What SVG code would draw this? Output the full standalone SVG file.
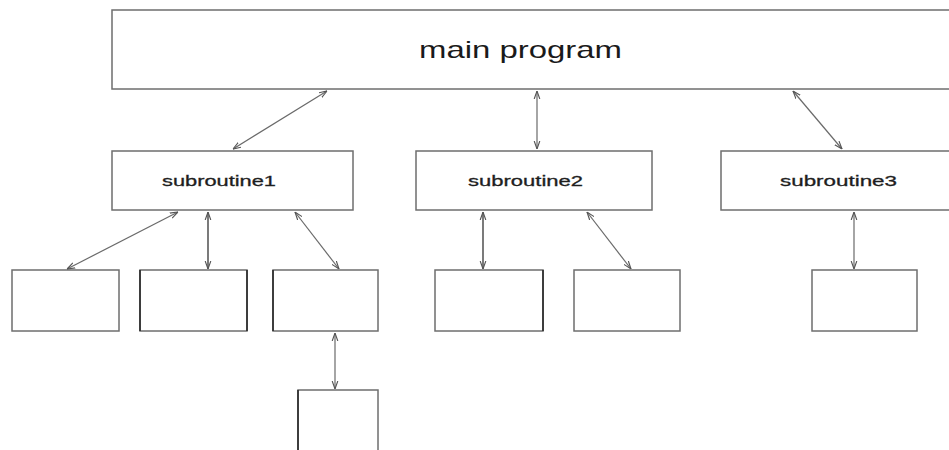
<svg xmlns="http://www.w3.org/2000/svg" width="949" height="450" viewBox="0 0 949 450">
  <style>
    .box { fill: #ffffff; stroke: #6e6e6e; stroke-width: 1.5; }
    .edge { stroke: #222222; stroke-width: 1.5; }
    .link { fill: none; stroke: #6a6a6a; stroke-width: 1.2; marker-start: url(#tip); marker-end: url(#tip); }
    .label { font-family: "Liberation Sans", Arial, sans-serif; fill: #1a1a1a; text-anchor: middle; }
    .main { font-size: 24px; }
    .sub { font-size: 15px; fill: #1e1e1e; stroke: #1e1e1e; stroke-width: 0.3; }
  </style>
  <defs>
    <marker id="tip" viewBox="0 0 10 10" refX="10" refY="5" markerWidth="8" markerHeight="8" markerUnits="userSpaceOnUse" orient="auto-start-reverse">
      <path d="M0,1.5 L10,5 L0,8.5" fill="none" stroke="#555555" stroke-width="1.4"/>
    </marker>
  </defs>
  <rect width="949" height="450" fill="#ffffff"/>

  <!-- top-level program -->
  <g id="main-program">
    <rect class="box" x="112" y="10" width="850" height="79"/>
    <text class="label main" x="520.5" y="58" textLength="203" lengthAdjust="spacingAndGlyphs">main program</text>
  </g>

  <!-- subroutines -->
  <g id="subroutine1">
    <rect class="box" x="112" y="151" width="241" height="59"/>
    <text class="label sub" x="219" y="186" textLength="114" lengthAdjust="spacingAndGlyphs">subroutine1</text>
  </g>
  <g id="subroutine2">
    <rect class="box" x="416" y="151" width="236" height="59"/>
    <text class="label sub" x="525.5" y="186" textLength="115" lengthAdjust="spacingAndGlyphs">subroutine2</text>
  </g>
  <g id="subroutine3">
    <rect class="box" x="721" y="151" width="240" height="59"/>
    <text class="label sub" x="838.5" y="186" textLength="117" lengthAdjust="spacingAndGlyphs">subroutine3</text>
  </g>

  <!-- children of subroutine1 -->
  <g id="s1-child-a">
    <rect class="box" x="12" y="270" width="107" height="61"/>
  </g>
  <g id="s1-child-b">
    <rect class="box" x="140" y="270" width="107" height="61"/>
    <line class="edge" x1="140" y1="270" x2="140" y2="331"/>
    <line class="edge" x1="247" y1="270" x2="247" y2="331"/>
  </g>
  <g id="s1-child-c">
    <rect class="box" x="273" y="270" width="105" height="61"/>
    <line class="edge" x1="273" y1="270" x2="273" y2="331"/>
  </g>
  <g id="s1-grandchild">
    <rect class="box" x="298" y="390" width="80" height="70"/>
    <line class="edge" x1="298" y1="390" x2="298" y2="450"/>
  </g>

  <!-- children of subroutine2 -->
  <g id="s2-child-a">
    <rect class="box" x="435" y="270" width="108" height="61"/>
    <line class="edge" x1="543" y1="270" x2="543" y2="331"/>
  </g>
  <g id="s2-child-b">
    <rect class="box" x="574" y="270" width="106" height="61"/>
  </g>

  <!-- child of subroutine3 -->
  <g id="s3-child">
    <rect class="box" x="812" y="270" width="105" height="61"/>
  </g>

  <!-- two-way calls between levels -->
  <g id="connectors">
    <line class="link" x1="327" y1="91" x2="233" y2="149"/>
    <line class="link" x1="537" y1="91" x2="537" y2="149"/>
    <line class="link" x1="793" y1="91" x2="842" y2="149"/>

    <line class="link" x1="178" y1="212" x2="67" y2="269"/>
    <line class="link" x1="208" y1="212" x2="208" y2="269" style="stroke:#222222"/>
    <line class="link" x1="295" y1="212" x2="339" y2="269"/>
    <line class="link" x1="335" y1="333" x2="335" y2="389"/>

    <line class="link" x1="483" y1="212" x2="483" y2="269" style="stroke:#222222"/>
    <line class="link" x1="587" y1="212" x2="631" y2="269"/>

    <line class="link" x1="854" y1="212" x2="854" y2="269"/>
  </g>
</svg>
